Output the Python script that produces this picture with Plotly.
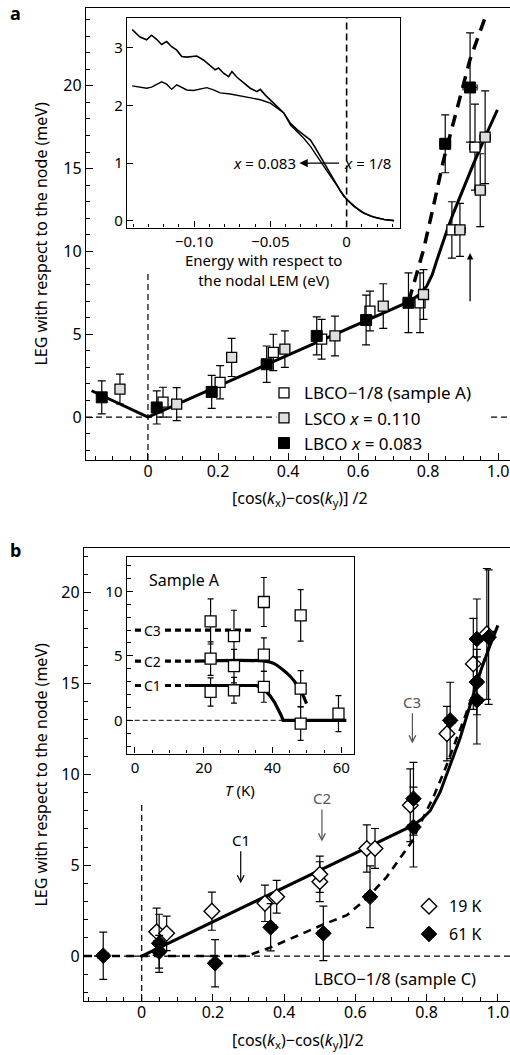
import plotly.graph_objects as go

# --------------------------------------------------------------
# Data  (panel a)
# --------------------------------------------------------------
lbco083_x = [-0.132, 0.025, 0.182, 0.339, 0.482, 0.623, 0.744, 0.849, 0.920]
lbco083_y = [1.19, 0.58, 1.52, 3.19, 4.90, 5.86, 6.90, 16.50, 19.90]
lbco083_ey = [1.0, 1.0, 1.0, 1.1, 1.15, 1.5, 1.8, 1.75, 3.3]
lbco083_ex = [0.012, 0.012, 0.012, 0.012, 0.012, 0.012, 0.015, 0.015, 0.02]

sampleA_x = [0.043, 0.206, 0.358, 0.496, 0.634, 0.777, 0.868, 0.934]
sampleA_y = [0.90, 2.10, 3.90, 4.70, 6.40, 6.90, 11.30, 16.30]
sampleA_ey = [0.9, 1.0, 1.1, 1.2, 1.2, 1.8, 1.7, 2.6]
sampleA_ex = [0.012, 0.012, 0.012, 0.012, 0.012, 0.012, 0.015, 0.015]

lsco_x = [-0.080, 0.082, 0.239, 0.391, 0.534, 0.672, 0.787, 0.891, 0.949, 0.963]
lsco_y = [1.69, 0.78, 3.60, 4.10, 4.90, 6.70, 7.40, 11.30, 13.70, 16.90]
lsco_ey = [0.9, 1.0, 1.15, 1.1, 1.2, 1.35, 1.5, 1.6, 2.2, 2.8]
lsco_ex = [0.012, 0.012, 0.012, 0.012, 0.012, 0.012, 0.012, 0.015, 0.015, 0.015]

fit_a_x = [-0.161, 0.0, 0.749, 0.775, 0.796, 0.812, 0.824, 0.838, 0.853, 0.872, 0.891, 0.930, 0.968, 0.998]
fit_a_y = [1.59, 0.0, 7.0, 7.4, 7.9, 8.6, 9.4, 10.3, 11.2, 12.3, 13.3, 15.3, 17.15, 18.55]
dash_a_x = [0.745, 0.787, 0.815, 0.844, 0.882, 0.920, 0.966]
dash_a_y = [7.0, 10.1, 12.7, 15.5, 18.55, 21.6, 24.3]

# inset a: energy distribution curves
edc_e = [-0.1406, -0.1355, -0.1311, -0.1279, -0.1246, -0.1213, -0.1180, -0.1147, -0.1114,
         -0.1081, -0.1048, -0.0982, -0.0939, -0.0895, -0.0862, -0.0840, -0.0807, -0.0774,
         -0.0752, -0.0719, -0.0675, -0.0632, -0.0588, -0.0566, -0.0533, -0.0500, -0.0456,
         -0.0412, -0.0368, -0.0325, -0.0281, -0.0237, -0.0204, -0.0171, -0.0138, -0.0105,
         -0.0072, -0.0039, 0.0004, 0.0048, 0.0114, 0.0180, 0.0246, 0.0311]
edc_upper = [3.32, 3.19, 3.14, 3.22, 3.15, 3.06, 3.11, 3.02, 2.96, 2.85, 2.84, 2.86, 2.79,
             2.70, 2.62, 2.65, 2.56, 2.50, 2.59, 2.49, 2.39, 2.30, 2.24, 2.28, 2.18, 2.10,
             1.98, 1.87, 1.69, 1.58, 1.49, 1.40, 1.26, 1.11, 0.97, 0.83, 0.68, 0.51, 0.36,
             0.25, 0.13, 0.06, 0.02, 0.0]
edc_e2 = [-0.1406, -0.1355, -0.1311, -0.1279, -0.1246, -0.1213, -0.1180, -0.1147, -0.1114,
          -0.1081, -0.1048, -0.1004, -0.0961, -0.0917, -0.0873, -0.0829, -0.0763, -0.0697,
          -0.0632, -0.0566, -0.0500, -0.0456, -0.0412, -0.0368, -0.0325, -0.0281, -0.0237,
          -0.0193, -0.0149, -0.0105, -0.0061, -0.0018, 0.0026, 0.0092, 0.0158, 0.0246, 0.0311]
edc_lower = [2.34, 2.32, 2.30, 2.32, 2.37, 2.41, 2.37, 2.28, 2.36, 2.32, 2.27, 2.26, 2.28,
             2.31, 2.27, 2.22, 2.20, 2.17, 2.13, 2.10, 2.04, 1.95, 1.87, 1.66, 1.55, 1.43,
             1.29, 1.11, 0.94, 0.77, 0.60, 0.42, 0.31, 0.16, 0.08, 0.02, 0.0]

# --------------------------------------------------------------
# Data  (panel b)
# --------------------------------------------------------------
k19_x = [0.042, 0.070, 0.197, 0.346, 0.379, 0.500, 0.500, 0.632, 0.655, 0.754, 0.857, 0.931, 0.969]
k19_y = [1.34, 1.25, 2.47, 2.90, 3.26, 4.09, 4.50, 5.92, 5.92, 8.30, 12.24, 16.08, 17.73]
k19_ey = [1.3, 0.95, 1.05, 1.0, 0.9, 1.1, 1.0, 1.3, 1.1, 2.0, 1.5, 2.5, 3.6]
k19_ex = [0.015, 0.015, 0.015, 0.015, 0.015, 0.015, 0.015, 0.015, 0.015, 0.015, 0.015, 0.015, 0.015]

k61_x = [-0.108, 0.049, 0.049, 0.206, 0.362, 0.510, 0.641, 0.763, 0.763, 0.866, 0.941, 0.941, 0.941, 0.974]
k61_y = [0.02, 0.70, 0.24, -0.40, 1.58, 1.25, 3.26, 8.66, 7.10, 12.97, 17.45, 15.08, 14.07, 17.55]
k61_ey = [1.3, 1.6, 0.9, 1.3, 1.3, 1.5, 1.7, 2.0, 2.2, 2.1, 2.2, 1.8, 2.4, 3.7]
k61_ex = [0.015, 0.015, 0.015, 0.015, 0.015, 0.015, 0.015, 0.015, 0.015, 0.015, 0.015, 0.015, 0.015, 0.015]

fit_b_x = [0.0, 0.763, 0.790, 0.810, 0.838, 0.866, 0.894, 0.922, 0.950, 0.978, 1.0]
fit_b_y = [0.0, 7.2, 7.6, 8.0, 9.03, 10.5, 12.0, 13.8, 15.6, 17.1, 18.2]
dash_b_x = [-0.162, 0.295, 0.360, 0.430, 0.510, 0.576, 0.632, 0.688, 0.726, 0.758, 0.790,
            0.820, 0.850, 0.880, 0.910, 0.940, 0.970, 0.995]
dash_b_y = [0.0, 0.0, 0.46, 1.05, 1.74, 2.25, 3.17, 4.36, 5.37, 6.28, 7.6,
            8.8, 10.2, 11.7, 13.3, 15.0, 16.7, 18.2]

# inset b: sample A gaps vs temperature
inset_T = [22.0, 22.0, 22.0, 28.8, 28.8, 28.8, 37.5, 37.5, 37.5, 48.2, 48.2, 48.2, 59.2]
inset_E = [7.67, 4.78, 2.20, 6.54, 4.20, 2.33, 9.18, 5.10, 2.60, 8.14, 2.46, -0.26, 0.52]
inset_err = [1.75, 1.3, 1.1, 2.0, 1.3, 1.0, 1.9, 1.3, 1.2, 2.0, 1.4, 1.3, 1.4]

c2_fit_T = [17.4, 37.3, 40.5, 43.1, 45.2, 47.0, 48.6, 49.9]
c2_fit_E = [4.6, 4.6, 4.4, 3.9, 3.4, 2.8, 2.1, 1.3]
c1_fit_T = [15.5, 35.4, 37.5, 39.2, 40.6, 41.7, 42.5, 43.1, 61.5]
c1_fit_E = [2.7, 2.7, 2.4, 1.94, 1.4, 0.85, 0.4, 0.0, 0.0]
c3_lvl_T = [0.0, 34.4]
c3_lvl_E = [7.0, 7.0]
c2_lvl_T = [0.0, 17.4]
c2_lvl_E = [4.6, 4.6]
c1_lvl_T = [0.0, 15.5]
c1_lvl_E = [2.7, 2.7]

# --------------------------------------------------------------
# Figure
# --------------------------------------------------------------
FONT = "Noto Sans"
W, H = 510, 1055


def err(arr, w=4):
    return dict(type="data", array=arr, color="black", thickness=1.2, width=w)


fig = go.Figure()

# panel a - fits
fig.add_trace(go.Scatter(x=fit_a_x, y=fit_a_y, mode="lines", line=dict(color="black", width=3),
                         showlegend=False, xaxis="x", yaxis="y"))
fig.add_trace(go.Scatter(x=dash_a_x, y=dash_a_y, mode="lines",
                         line=dict(color="black", width=3.5, dash="12px,8px"),
                         showlegend=False, xaxis="x", yaxis="y"))
# panel a - points
fig.add_trace(go.Scatter(x=sampleA_x, y=sampleA_y, mode="markers", name="LBCO\u22121/8 (sample A)",
                         error_y=err(sampleA_ey), error_x=err(sampleA_ex, 3),
                         marker=dict(symbol="square", size=10, color="white",
                                     line=dict(color="black", width=1.3)),
                         xaxis="x", yaxis="y", legend="legend", legendrank=1))
fig.add_trace(go.Scatter(x=lsco_x, y=lsco_y, mode="markers", name="LSCO <i>x</i> = 0.110",
                         error_y=err(lsco_ey), error_x=err(lsco_ex, 3),
                         marker=dict(symbol="square", size=10, color="#dedede",
                                     line=dict(color="black", width=1.3)),
                         xaxis="x", yaxis="y", legend="legend", legendrank=2))
fig.add_trace(go.Scatter(x=lbco083_x, y=lbco083_y, mode="markers", name="LBCO <i>x</i> = 0.083",
                         error_y=err(lbco083_ey), error_x=err(lbco083_ex, 3),
                         marker=dict(symbol="square", size=11, color="black",
                                     line=dict(color="black", width=1)),
                         xaxis="x", yaxis="y", legend="legend", legendrank=3))

# inset a
fig.add_trace(go.Scatter(x=edc_e, y=edc_upper, mode="lines", line=dict(color="black", width=1.6),
                         showlegend=False, xaxis="x2", yaxis="y2"))
fig.add_trace(go.Scatter(x=edc_e2, y=edc_lower, mode="lines", line=dict(color="black", width=1.4),
                         showlegend=False, xaxis="x2", yaxis="y2"))

# panel b - fits
fig.add_trace(go.Scatter(x=dash_b_x, y=dash_b_y, mode="lines",
                         line=dict(color="black", width=2.6, dash="8px,6px"),
                         showlegend=False, xaxis="x3", yaxis="y3"))
fig.add_trace(go.Scatter(x=fit_b_x, y=fit_b_y, mode="lines", line=dict(color="black", width=3),
                         showlegend=False, xaxis="x3", yaxis="y3"))
# panel b - points
fig.add_trace(go.Scatter(x=k19_x, y=k19_y, mode="markers", name="19 K",
                         error_y=err(k19_ey), error_x=err(k19_ex, 3),
                         marker=dict(symbol="diamond", size=12, color="white",
                                     line=dict(color="black", width=1.4)),
                         xaxis="x3", yaxis="y3", legend="legend2", legendgroup="k19"))
fig.add_trace(go.Scatter(x=k61_x, y=k61_y, mode="markers", name="61 K",
                         error_y=err(k61_ey), error_x=err(k61_ex, 3),
                         marker=dict(symbol="diamond", size=12, color="black",
                                     line=dict(color="black", width=1)),
                         xaxis="x3", yaxis="y3", legend="legend2", legendgroup="k61"))

# inset b
for tx, ty in [(c3_lvl_T, c3_lvl_E), (c2_lvl_T, c2_lvl_E), (c1_lvl_T, c1_lvl_E)]:
    fig.add_trace(go.Scatter(x=tx, y=ty, mode="lines", line=dict(color="black", width=3.2, dash="6px,4px"),
                             showlegend=False, xaxis="x4", yaxis="y4"))
fig.add_trace(go.Scatter(x=c2_fit_T, y=c2_fit_E, mode="lines", line=dict(color="black", width=3.2),
                         line_shape="spline", showlegend=False, xaxis="x4", yaxis="y4"))
fig.add_trace(go.Scatter(x=c1_fit_T, y=c1_fit_E, mode="lines", line=dict(color="black", width=3.2),
                         showlegend=False, xaxis="x4", yaxis="y4"))
fig.add_trace(go.Scatter(x=inset_T, y=inset_E, mode="markers",
                         error_y=err(inset_err, 3),
                         marker=dict(symbol="square", size=11, color="white",
                                     line=dict(color="black", width=1.3)),
                         showlegend=False, xaxis="x4", yaxis="y4"))

# --------------------------------------------------------------
# Axes
# --------------------------------------------------------------
common = dict(showgrid=False, zeroline=False, showline=True, linecolor="black", linewidth=1.4,
              ticks="inside", tickcolor="black", tickwidth=1.2, ticklen=7,
              tickfont=dict(size=16, color="black", family=FONT))
inset_common = dict(common, mirror=True, tickfont=dict(size=15, color="black", family=FONT), ticklen=6)

xt = [0, 0.2, 0.4, 0.6, 0.8, 1.0]
xtt = ["0", "0.2", "0.4", "0.6", "0.8", "1.0"]
minor_x = dict(ticks="inside", tickmode="linear", tick0=0, dtick=0.05, ticklen=4, tickcolor="black")
minor_y = dict(ticks="inside", tickmode="linear", tick0=0, dtick=1, ticklen=4, tickcolor="black")

fig.update_layout(
    xaxis=dict(common, domain=[86 / W, 1.0], range=[-0.177, 1.034], anchor="y", mirror=True,
               tickmode="array", tickvals=xt, ticktext=xtt, minor=minor_x, ticklabelstandoff=-4),
    yaxis=dict(common, domain=[1 - 461 / H, 1 - 8 / H], range=[-2.6, 24.7], anchor="x",
               tickmode="array", tickvals=[0, 5, 10, 15, 20], minor=minor_y),
    xaxis2=dict(inset_common, domain=[127 / W, 400 / W], range=[-0.144, 0.035], anchor="y2",
                tickmode="array", tickvals=[-0.10, -0.05, 0], ticktext=["\u22120.10", "\u22120.05", "0"],
                minor=dict(ticks="inside", tickmode="linear", tick0=0, dtick=0.01, ticklen=3, tickcolor="black")),
    yaxis2=dict(inset_common, domain=[1 - 228 / H, 1 - 18 / H], range=[-0.12, 3.52], anchor="x2",
                tickmode="array", tickvals=[0, 1, 2, 3]),
    xaxis3=dict(common, domain=[84 / W, 1.0], range=[-0.162, 1.034], anchor="y3", mirror=True,
                tickmode="array", tickvals=xt, ticktext=xtt, minor=minor_x, ticklabelstandoff=-3),
    yaxis3=dict(common, domain=[1 - 1003 / H, 1 - 549 / H], range=[-2.48, 22.46], anchor="x3",
                tickmode="array", tickvals=[0, 5, 10, 15, 20], minor=minor_y),
    xaxis4=dict(inset_common, domain=[126.7 / W, 354.3 / W], range=[-2.4, 63.8], anchor="y4",
                tickmode="array", tickvals=[0, 20, 40, 60],
                minor=dict(ticks="inside", tickmode="linear", tick0=0, dtick=5, ticklen=3, tickcolor="black")),
    yaxis4=dict(inset_common, domain=[1 - 755 / H, 1 - 557.7 / H], range=[-2.58, 12.7], anchor="x4",
                tickmode="array", tickvals=[0, 5, 10], minor=minor_y),
)

# --------------------------------------------------------------
# Reference lines
# --------------------------------------------------------------
thin = dict(color="black", width=1.2, dash="6px,4px")
fig.add_shape(type="line", xref="x", yref="y", x0=0, x1=0, y0=-2.6, y1=8.8, line=thin)
fig.add_shape(type="line", xref="x", yref="y", x0=-0.177, x1=0.367, y0=0, y1=0, line=thin)
fig.add_shape(type="line", xref="x", yref="y", x0=0.98, x1=1.034, y0=0, y1=0, line=thin)
fig.add_shape(type="line", xref="x2", yref="y2", x0=0, x1=0, y0=-0.12, y1=3.52,
              line=dict(color="black", width=1.6, dash="7px,4px"))
fig.add_shape(type="line", xref="x3", yref="y3", x0=0, x1=0, y0=-2.48, y1=8.4, line=thin)
fig.add_shape(type="line", xref="x3", yref="y3", x0=-0.162, x1=1.034, y0=0, y1=0, line=thin)
fig.add_shape(type="line", xref="x4", yref="y4", x0=-2.4, x1=43, y0=0, y1=0,
              line=dict(color="black", width=1, dash="5px,3px"))

# --------------------------------------------------------------
# Text and arrows
# --------------------------------------------------------------
ann = []


def paper_text(text, px, py, size=16, angle=0):
    return dict(text=text, x=px / W, y=1 - py / H, xref="paper", yref="paper", xanchor="center",
                yanchor="middle", textangle=angle, showarrow=False,
                font=dict(family=FONT, size=size, color="black"))


ann.append(paper_text("<b>a</b>", 15, 13, 18))
ann.append(paper_text("<b>b</b>", 15, 551, 18))
ylab = "LEG with respect to the node (meV)"
ann.append(paper_text(ylab, 41, 234, 16, -90))
ann.append(paper_text(ylab, 41, 776, 16, -90))
ann.append(paper_text("[cos(<i>k</i><sub>x</sub>)\u2212cos(<i>k</i><sub>y</sub>)] /2", 300, 499))
ann.append(paper_text("[cos(<i>k</i><sub>x</sub>)\u2212cos(<i>k</i><sub>y</sub>)]/2", 298, 1042))
ann.append(paper_text("Energy with respect to<br>the nodal LEM (eV)", 263, 271, 15))
ann.append(paper_text("<i>T</i> (K)", 240, 792, 15))

# inset a labels
sf = dict(family=FONT, size=15, color="black")
ann.append(dict(text="<i>x</i> = 0.083", x=-0.032, y=1, xref="x2", yref="y2", xanchor="right",
                yanchor="middle", showarrow=False, font=sf))
ann.append(dict(text="<i>x</i> = 1/8", x=-0.003, y=1, xref="x2", yref="y2", xanchor="left",
                yanchor="middle", showarrow=False, font=sf))
ann.append(dict(text="", x=-0.031, y=1, ax=-0.004, ay=1, xref="x2", yref="y2", axref="x2", ayref="y2",
                showarrow=True, arrowhead=2, arrowsize=1.2, arrowwidth=1.4, arrowcolor="black"))

# panel a arrow
ann.append(dict(text="", x=0.92, y=9.9, ax=0.92, ay=6.9, xref="x", yref="y", axref="x", ayref="y",
                showarrow=True, arrowhead=2, arrowsize=1, arrowwidth=1.3, arrowcolor="black"))

# inset b labels
ann.append(dict(text="Sample A", x=3.4, y=10.9, xref="x4", yref="y4", xanchor="left", yanchor="middle",
                showarrow=False, font=dict(family=FONT, size=16, color="black")))
for lbl, lv in [("C3", 7.0), ("C2", 4.6), ("C1", 2.7)]:
    ann.append(dict(text=lbl, x=5.0, y=lv, xref="x4", yref="y4", showarrow=False, bgcolor="white",
                    borderpad=0, yanchor="middle", font=dict(family=FONT, size=14, color="black")))

# panel b labels
for lbl, cx, yh, yt, col in [("C1", 0.278, 4.0, 6.4, "black"), ("C2", 0.506, 6.3, 8.7, "#555555"),
                             ("C3", 0.760, 11.7, 14.0, "#555555")]:
    ann.append(dict(text=lbl, x=cx, y=yh, ax=cx, ay=yt, xref="x3", yref="y3", axref="x3", ayref="y3",
                    showarrow=True, arrowhead=5, arrowsize=1.1, arrowwidth=1.2, arrowcolor=col,
                    font=dict(family=FONT, size=15, color=col)))
ann.append(dict(text="LBCO\u22121/8 (sample C)", x=0.71, y=-1.26, xref="x3", yref="y3",
                xanchor="center", yanchor="middle", showarrow=False,
                font=dict(family=FONT, size=16.5, color="black")))

fig.update_layout(
    width=W, height=H,
    margin=dict(l=0, r=0, t=0, b=0),
    paper_bgcolor="white", plot_bgcolor="white",
    font=dict(family=FONT, color="black"),
    annotations=ann,
    legend=dict(x=264 / W, y=1 - 376 / H, xanchor="left", yanchor="top", bgcolor="rgba(0,0,0,0)",
                font=dict(family=FONT, size=17, color="black"), itemwidth=30, tracegroupgap=0),
    legend2=dict(x=409 / W, y=1 - 891 / H, xanchor="left", yanchor="top", bgcolor="rgba(0,0,0,0)",
                 font=dict(family=FONT, size=16, color="black"), itemwidth=30,
                 traceorder="grouped", tracegroupgap=4),
)

# page body has a default 8px margin; drop it so the figure sits at the window origin
fig.write_html("out.html", config={"displayModeBar": False},
               post_script="document.body.style.margin='0';")
